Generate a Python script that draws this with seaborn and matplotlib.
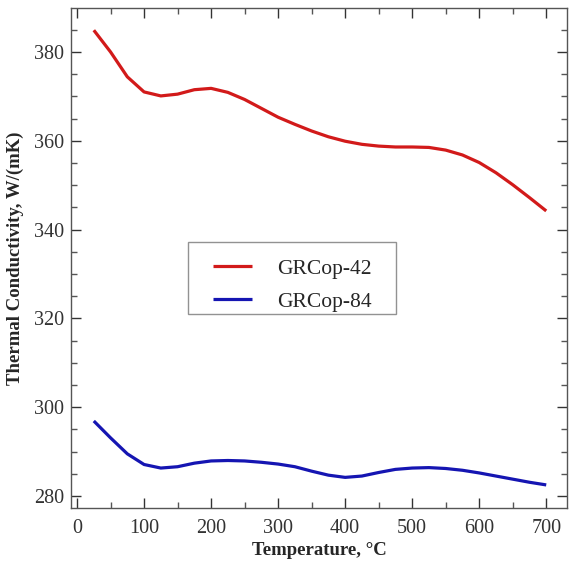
import numpy as np
import pandas as pd
import seaborn as sns
import matplotlib
matplotlib.use("Agg")
import matplotlib.pyplot as plt
from matplotlib.ticker import MultipleLocator
from matplotlib.legend_handler import HandlerLine2D
from matplotlib.lines import Line2D

temperature = [25, 50, 75, 100, 125, 150, 175, 200, 225, 250, 275, 300, 325, 350,
               375, 400, 425, 450, 475, 500, 525, 550, 575, 600, 625, 650, 675, 700]
grcop42 = [384.9, 380.0, 374.4, 371.0, 370.1, 370.5, 371.5, 371.8, 370.9, 369.3,
           367.3, 365.3, 363.7, 362.2, 360.9, 359.9, 359.2, 358.8, 358.6, 358.6,
           358.5, 357.9, 356.8, 355.1, 352.8, 350.1, 347.2, 344.2]
grcop84 = [296.9, 293.1, 289.5, 287.1, 286.3, 286.6, 287.4, 287.9, 288.0, 287.9,
           287.6, 287.2, 286.6, 285.6, 284.7, 284.2, 284.5, 285.3, 286.0, 286.3,
           286.4, 286.2, 285.8, 285.2, 284.5, 283.8, 283.1, 282.5]
series_names = ["GRCop-42", "GRCop-84"]
series_colors = ["#d21a1a", "#1515b2"]

df = pd.concat([
    pd.DataFrame({"T": temperature, "k": grcop42, "alloy": series_names[0]}),
    pd.DataFrame({"T": temperature, "k": grcop84, "alloy": series_names[1]}),
])

sns.set_theme(style="white")
plt.rcParams["font.family"] = ["Liberation Serif", "DejaVu Serif"]

fig = plt.figure(figsize=(5.69, 5.71), dpi=100)
ax = fig.add_axes([0.1248, 0.1103, 0.8717, 0.8757])

sns.lineplot(data=df, x="T", y="k", hue="alloy", palette=series_colors,
             linewidth=2.3, ax=ax, legend=True)
for ln in ax.get_lines():
    ln.set_solid_capstyle("butt")
    ln.set_solid_joinstyle("round")

ax.set_xlim(-9, 731)
ax.set_ylim(277.3, 389.9)
ax.xaxis.set_major_locator(MultipleLocator(100))
ax.xaxis.set_minor_locator(MultipleLocator(50))
ax.yaxis.set_major_locator(MultipleLocator(20))
ax.yaxis.set_minor_locator(MultipleLocator(5))
ax.tick_params(which="both", direction="in", top=True, right=True,
               bottom=True, left=True, color="#555555", width=1.0)
ax.tick_params(which="major", length=7, labelsize=14.5, pad=5, colors="#333333")
ax.tick_params(axis="x", which="major", pad=8)
ax.tick_params(which="minor", length=4)
for s in ax.spines.values():
    s.set_color("#555555")
    s.set_linewidth(1.0)

ax.set_xlabel("Temperature, °C", fontsize=13.5, fontweight="bold", labelpad=3)
ax.set_ylabel("Thermal Conductivity, W/(mK)", fontsize=13.5, fontweight="bold", labelpad=7)

handles, labels = ax.get_legend_handles_labels()
leg = ax.legend(handles, labels, loc="upper left",
                bbox_to_anchor=(0.236, 0.532 - 0.4, 0.419, 0.4), mode="expand",
                title=" ", title_fontsize=1,
                fontsize=15.5, frameon=True, fancybox=False, edgecolor="#777777",
                handlelength=2.87, handletextpad=1.16, borderpad=0.12,
                labelspacing=0.6, borderaxespad=0,
                handler_map={Line2D: HandlerLine2D(xpad=1.05)})
leg.get_frame().set_linewidth(1.0)
for ln in leg.get_lines():
    ln.set_linewidth(2.3)

fig.savefig("out.png", dpi=100)
